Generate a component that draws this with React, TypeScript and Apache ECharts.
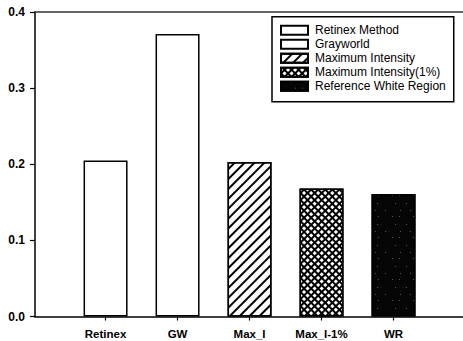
import React, { useEffect, useRef } from "react";
import * as echarts from "echarts";

const categories = ["Retinex", "GW", "Max_I", "Max_I-1%", "WR"];
const seriesNames = [
  "Retinex Method",
  "Grayworld",
  "Maximum Intensity",
  "Maximum Intensity(1%)",
  "Reference White Region",
];
const values = [0.205, 0.371, 0.203, 0.168, 0.161];
const yTicks = [0, 0.1, 0.2, 0.3, 0.4];

const FONT = "'Liberation Sans', Arial, sans-serif";

export default function App() {
  const ref = useRef<HTMLDivElement>(null);
  useEffect(() => {
    if (!ref.current) return;
    const chart = echarts.init(ref.current, undefined, { renderer: "svg" });
    const border = { borderColor: "#000", borderWidth: 1.5 };
    const styles: any[] = [
      { color: "#fff", ...border },
      { color: "#fff", ...border },
      {
        color: "#fff",
        ...border,
        decal: {
          symbol: "rect",
          symbolSize: 1,
          dashArrayX: [1, 0],
          dashArrayY: [2, 4.6],
          rotation: -Math.PI / 4,
          color: "#000",
        },
      },
      {
        color: "#000",
        ...border,
        decal: {
          symbol: "rect",
          symbolSize: 1,
          dashArrayX: [3, 2],
          dashArrayY: [3, 2],
          rotation: Math.PI / 4,
          color: "#fff",
        },
      },
      {
        color: "#050505",
        ...border,
        decal: {
          symbol: "rect",
          symbolSize: 1,
          dashArrayX: [
            [1, 9, 1, 14],
            [1, 13, 1, 6],
            [1, 17, 1, 10],
          ],
          dashArrayY: [1, 5, 1, 7, 1, 6],
          color: "#555",
        },
      },
    ];
    const series = seriesNames.map((name, i) => ({
      name,
      type: "bar",
      stack: "all",
      barWidth: 44,
      data: [[i + 1, values[i]]],
      itemStyle: styles[i],
    }));
    chart.setOption({
      animation: false,
      grid: { left: 35, right: 0, top: 12, bottom: 24.5 },
      legend: {
        orient: "vertical",
        left: 272,
        top: 16.7,
        icon: "rect",
        itemWidth: 27,
        itemHeight: 9,
        itemGap: 2,
        padding: [7.5, 8, 9.5, 8],
        borderColor: "#000",
        borderWidth: 1.5,
        backgroundColor: "#fff",
        selectedMode: false,
        textStyle: {
          fontFamily: FONT,
          fontSize: 12,
          color: "#000",
          lineHeight: 12,
          padding: [0, 0, 0, 2],
        },
        data: seriesNames,
      },
      xAxis: [
        {
          type: "value",
          min: 0.02,
          max: 5.965,
          splitLine: { show: false },
          axisLine: { show: true, lineStyle: { color: "#000", width: 1.5 } },
          axisTick: {
            show: true,
            length: 4,
            customValues: [1, 2, 3, 4, 5],
            lineStyle: { color: "#000", width: 1.2 },
          },
          axisLabel: {
            customValues: [1, 2, 3, 4, 5],
            formatter: (v: number) => categories[Math.round(v) - 1] ?? "",
            fontFamily: FONT,
            fontSize: 11.5,
            fontWeight: "bold",
            color: "#000",
            margin: 11,
          },
        },
        {
          type: "value",
          position: "top",
          min: 0.02,
          max: 5.965,
          splitLine: { show: false },
          axisLine: { show: true, lineStyle: { color: "#333", width: 1.5 } },
          axisTick: { show: false },
          axisLabel: { show: false },
        },
      ],
      yAxis: {
        type: "value",
        min: 0,
        max: 0.4,
        interval: 0.1,
        splitLine: { show: false },
        axisLine: { show: true, lineStyle: { color: "#000", width: 1.5 } },
        axisTick: { show: true, length: 5, lineStyle: { color: "#000", width: 1.2 } },
        axisLabel: {
          customValues: yTicks,
          formatter: (v: number) => v.toFixed(1),
          fontFamily: FONT,
          fontSize: 12,
          fontWeight: "bold",
          color: "#000",
          margin: 10,
        },
      },
      series,
    });
    return () => chart.dispose();
  }, []);
  return (
    <div
      ref={ref}
      style={{ position: "fixed", left: 0, top: 0, width: 463, height: 341, background: "#fff" }}
    />
  );
}
